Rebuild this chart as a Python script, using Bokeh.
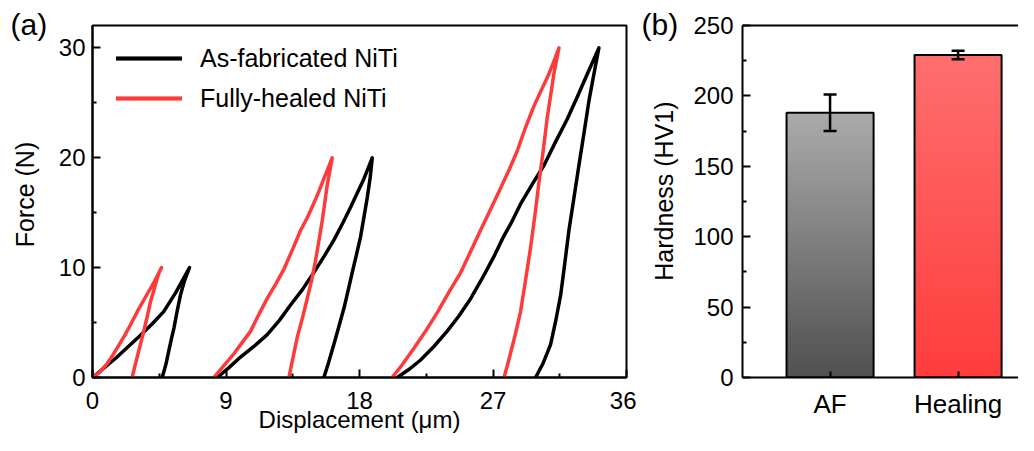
import numpy as np
from bokeh.plotting import figure
from bokeh.layouts import row
from bokeh.models import (FixedTicker, Legend, LegendItem, LinearAxis, Title,
                          Whisker, TeeHead, ColumnDataSource, Range1d)
from bokeh.embed import file_html
from bokeh.resources import INLINE

FONT = "Liberation Sans"
BLACK = "#000000"
RED = "#fe3b3b"
NB = "\u00a0"

# ---------------- Panel (a) data: load-displacement curves ----------------
# As-fabricated NiTi (black)
af10_load_x = [0, 0.8, 1.6, 2.4, 3.2, 4.0, 4.8, 5.6, 6.54]
af10_load_y = [0, 0.9, 1.8, 2.8, 3.8, 4.85, 6.0, 7.7, 10]
af10_unload_x = [6.54, 6.2, 5.93, 5.7, 5.49, 5.3, 5.15, 4.95, 4.7]
af10_unload_y = [10, 8.8, 7.5, 6.0, 4.5, 3.4, 2.46, 1.2, 0]

af20_load_x = [8.4, 9.2, 9.98, 10.9, 11.78, 12.6, 13.35, 14.15, 14.92, 15.6, 16.27, 16.85, 17.4, 17.85, 18.3, 18.86]
af20_load_y = [0, 0.9, 1.86, 2.85, 3.9, 5.2, 6.6, 8.0, 9.56, 11.0, 12.5, 14.0, 15.5, 16.8, 18.1, 20]
af20_unload_x = [18.86, 18.72, 18.52, 18.3, 18.07, 17.8, 17.51, 17.23, 16.95, 16.6, 16.27, 15.9, 15.6]
af20_unload_y = [20, 18.2, 16.35, 14.6, 12.8, 11.2, 9.56, 7.9, 6.3, 4.6, 3.0, 1.3, 0]

af30_load_x = [20.55, 21.3, 22.1, 23.0, 23.9, 24.7, 25.5, 26.3, 27.06, 27.7, 28.2, 28.86, 29.65, 30.43, 31.2, 32.0, 32.7, 33.35, 34.14]
af30_load_y = [0, 0.7, 1.57, 2.8, 4.2, 5.6, 7.2, 9.1, 11.0, 12.8, 14.0, 15.8, 17.6, 19.3, 21.4, 23.5, 25.6, 27.6, 30]
af30_unload_x = [34.14, 33.8, 33.47, 33.13, 32.79, 32.45, 32.12, 31.84, 31.56, 31.22, 30.88, 30.38, 29.87]
af30_unload_y = [30, 27.6, 25.2, 22.2, 19.3, 16.3, 13.4, 10.4, 7.5, 5.1, 3.0, 1.3, 0]

# Fully-healed NiTi (red)
fh10_load_x = [0, 0.5, 0.99, 1.4, 1.8, 2.2, 2.56, 3.1, 3.69, 4.2, 4.65]
fh10_load_y = [0, 0.5, 1.27, 2.1, 3.0, 3.9, 4.8, 6.2, 7.6, 8.8, 10]
fh10_unload_x = [4.65, 4.5, 4.36, 4.15, 3.91, 3.65, 3.35, 3.0, 2.67]
fh10_unload_y = [10, 9.6, 9.0, 8.0, 6.9, 5.3, 3.64, 1.8, 0]

fh20_load_x = [8.18, 8.8, 9.53, 10.1, 10.65, 11.2, 11.78, 12.35, 12.9, 13.5, 14.03, 14.5, 14.9, 15.25, 15.6, 15.9, 16.16]
fh20_load_y = [0, 1.0, 2.16, 3.2, 4.2, 5.7, 7.2, 8.5, 9.85, 11.7, 13.4, 14.6, 15.8, 16.9, 18.1, 19.1, 20]
fh20_unload_x = [16.16, 16.0, 15.82, 15.66, 15.49, 15.27, 15.04, 14.78, 14.48, 14.15, 13.8, 13.5, 13.24]
fh20_unload_y = [20, 18.8, 17.5, 15.9, 14.3, 12.5, 10.7, 8.9, 7.2, 5.4, 3.64, 1.7, 0]

fh30_load_x = [20.2, 20.9, 21.67, 22.45, 23.24, 24.0, 24.8, 25.5, 26.16, 26.8, 27.5, 28.05, 28.6, 29.15, 29.73, 30.2, 30.66, 31.05, 31.45]
fh30_load_y = [0, 1.2, 2.66, 4.2, 5.9, 7.7, 9.5, 11.5, 13.4, 15.2, 17.2, 18.8, 20.5, 22.6, 24.6, 26.0, 27.3, 28.6, 30]
fh30_unload_x = [31.45, 31.3, 31.1, 30.9, 30.66, 30.4, 30.1, 29.83, 29.54, 29.2, 28.86, 28.5, 28.2, 27.95, 27.74]
fh30_unload_y = [30, 29.0, 27.6, 25.8, 23.7, 20.8, 17.8, 14.8, 11.9, 8.9, 6.0, 3.9, 2.3, 1.0, 0]

x_ticks_a = [0, 9, 18, 27, 36]
x_minor_a = [4.5, 13.5, 22.5, 31.5]
y_ticks_a = [0, 10, 20, 30]
y_minor_a = [5, 15, 25]
legend_labels = ["As-fabricated NiTi", "Fully-healed NiTi"]

# ---------------- Panel (b) data: hardness bars ----------------
categories = ["AF", "Healing"]
hardness = [188, 229]
hardness_err = [13, 3]
y_ticks_b = [0, 50, 100, 150, 200, 250]
y_minor_b = [25, 75, 125, 175, 225]

# ---------------- Layout constants ----------------
H = 435
TOP = 25
BOTTOM = 53
TICK_FS = "24px"
LABEL_FS = "25px"


def style_axes(p):
    for ax in p.xaxis + p.yaxis:
        ax.axis_line_width = 2
        ax.axis_line_color = BLACK
        ax.major_tick_line_width = 2
        ax.minor_tick_line_width = 2
        ax.major_tick_line_color = BLACK
        ax.minor_tick_line_color = BLACK
        ax.major_tick_in = 8
        ax.major_tick_out = 0
        ax.minor_tick_in = 4
        ax.minor_tick_out = 0
        ax.major_label_text_font = FONT
        ax.major_label_text_font_size = TICK_FS
        ax.major_label_text_color = BLACK
        ax.axis_label_text_font = FONT
        ax.axis_label_text_font_size = LABEL_FS
        ax.axis_label_text_font_style = "normal"
        ax.axis_label_text_color = BLACK


# ---------------- Panel (a) ----------------
pa = figure(width=636, height=H, output_backend="svg", toolbar_location=None,
            x_range=Range1d(0, 36), y_range=Range1d(0, 32.04),
            min_border_left=92, min_border_right=10,
            min_border_top=TOP, min_border_bottom=BOTTOM)
pa.grid.visible = False
pa.outline_line_color = BLACK
pa.outline_line_width = 2
pa.background_fill_color = "white"
pa.border_fill_color = "white"

pa.xaxis.ticker = FixedTicker(ticks=x_ticks_a, minor_ticks=x_minor_a)
pa.yaxis.ticker = FixedTicker(ticks=y_ticks_a, minor_ticks=y_minor_a)
style_axes(pa)
pa.xaxis.major_label_standoff = 14
pa.yaxis.major_label_standoff = 7
pa.xaxis.axis_label = "Displacement (\u03bcm)"
pa.xaxis.axis_label_text_font_size = "24px"
pa.xaxis.axis_label_standoff = -6
pa.yaxis.axis_label = NB * 2 + "Force (N)"
pa.yaxis.axis_label_standoff = 17

pa.add_layout(Title(text="(a)", align="left", offset=-82, standoff=-30,
                    vertical_align="bottom", text_font=FONT,
                    text_font_size="30px", text_font_style="normal",
                    text_color=BLACK), "above")

black_r = []
red_r = []
for lx, ly, ux, uy in [(af10_load_x, af10_load_y, af10_unload_x, af10_unload_y),
                       (af20_load_x, af20_load_y, af20_unload_x, af20_unload_y),
                       (af30_load_x, af30_load_y, af30_unload_x, af30_unload_y)]:
    black_r.append(pa.line(lx + ux, ly + uy, line_color=BLACK, line_width=3.5,
                           line_join="round", line_cap="round"))
for lx, ly, ux, uy in [(fh10_load_x, fh10_load_y, fh10_unload_x, fh10_unload_y),
                       (fh20_load_x, fh20_load_y, fh20_unload_x, fh20_unload_y),
                       (fh30_load_x, fh30_load_y, fh30_unload_x, fh30_unload_y)]:
    red_r.append(pa.line(lx + ux, ly + uy, line_color=RED, line_width=3.5,
                         line_join="round", line_cap="round"))

legend = Legend(items=[LegendItem(label=legend_labels[0], renderers=black_r),
                       LegendItem(label=legend_labels[1], renderers=red_r)],
                location=(24, 264), padding=0, margin=0, spacing=10,
                glyph_width=66, glyph_height=30, label_height=30,
                label_standoff=18, label_text_font=FONT,
                label_text_font_size="25px", label_text_color=BLACK,
                border_line_color=None, background_fill_alpha=0)
pa.add_layout(legend)

# ---------------- Panel (b) ----------------
bar_x = [1, 2]
bar_w = 0.68
pb = figure(width=382, height=H, output_backend="svg", toolbar_location=None,
            x_range=Range1d(0.316, 2.472), y_range=Range1d(0, 250),
            min_border_left=106, min_border_right=0,
            min_border_top=TOP, min_border_bottom=BOTTOM)
pb.grid.visible = False
pb.outline_line_color = None
pb.background_fill_color = "white"
pb.border_fill_color = "white"

pb.xaxis.ticker = FixedTicker(ticks=bar_x)
pb.xaxis.major_label_overrides = {bx: c for bx, c in zip(bar_x, categories)}
pb.yaxis.ticker = FixedTicker(ticks=y_ticks_b, minor_ticks=y_minor_b)
style_axes(pb)
pb.xaxis.major_tick_in = 6
pb.xaxis.major_label_text_font_size = "26px"
pb.xaxis.major_label_standoff = 11
pb.yaxis.major_label_standoff = 9
pb.yaxis.axis_label = NB * 3 + "Hardness (HV1)"
pb.yaxis.axis_label_standoff = 12

top_axis = LinearAxis(ticker=FixedTicker(ticks=[]), axis_line_width=2,
                      axis_line_color=BLACK, major_tick_out=0, major_tick_in=0,
                      minor_tick_out=0, minor_tick_in=0, major_label_standoff=0,
                      major_label_text_font_size="0px")
pb.add_layout(top_axis, "above")
pb.add_layout(Title(text="(b)", align="left", offset=-101, standoff=-30,
                    vertical_align="bottom", text_font=FONT,
                    text_font_size="30px", text_font_style="normal",
                    text_color=BLACK), "above")

# gradient bars: each bar filled from its bottom colour up to its top colour
grad = {"AF": ((0xab, 0xab, 0xab), (0x50, 0x50, 0x50)),
        "Healing": ((0xff, 0x6e, 0x6e), (0xff, 0x3d, 0x3d))}
N = 80
for bx, cat, val in zip(bar_x, categories, hardness):
    edges = np.linspace(0, val, N + 1)
    step = edges[1] - edges[0]
    top_c, bot_c = grad[cat]
    fr = (edges[:-1] + edges[1:]) / 2 / val
    cols = []
    for f in fr:
        c = [int(round(b + (t - b) * f)) for t, b in zip(top_c, bot_c)]
        cols.append("#%02x%02x%02x" % tuple(c))
    pb.quad(left=bx - bar_w / 2, right=bx + bar_w / 2, bottom=edges[:-1],
            top=np.minimum(edges[1:] + step, val), fill_color=cols, line_color=None)
pb.vbar(x=bar_x, top=hardness, width=bar_w, bottom=0, fill_color=None,
        line_color=BLACK, line_width=2)

err_src = ColumnDataSource(dict(x=bar_x,
                                upper=[v + e for v, e in zip(hardness, hardness_err)],
                                lower=[v - e for v, e in zip(hardness, hardness_err)]))
pb.add_layout(Whisker(source=err_src, base="x", upper="upper", lower="lower",
                      dimension="height", line_width=2.5, line_color=BLACK,
                      level="overlay",
                      upper_head=TeeHead(size=13, line_width=2.5, line_color=BLACK),
                      lower_head=TeeHead(size=13, line_width=2.5, line_color=BLACK)))

layout = row(pa, pb)
open("out.html", "w").write(file_html(layout, INLINE))
